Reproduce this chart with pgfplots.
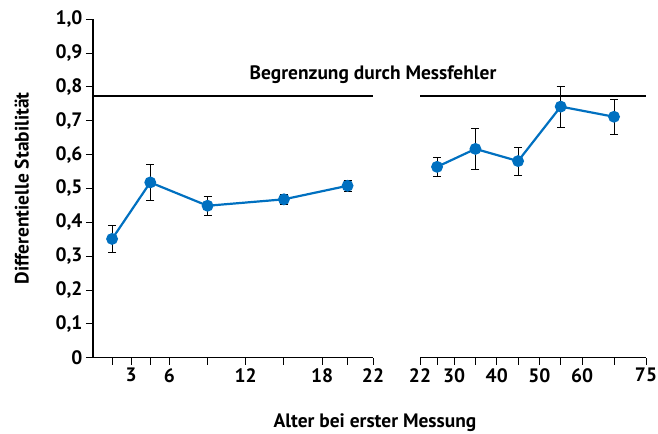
\documentclass[border=0pt]{standalone}
\usepackage{pgfplots}
\pgfplotsset{compat=1.18}
\usepackage{fontspec}
\setmainfont{PT Sans}
\definecolor{ptblue}{RGB}{0,112,192}
\newcommand{\ff}{\fontsize{19.5}{22}\bfseries\selectfont}
\begin{document}
\begin{tikzpicture}
\pgfplotsset{
  base/.style={
    scale only axis,
    height=338.4bp,
    ymin=0, ymax=1,
    clip=false,
    axis line style={line width=1.3bp},
    tick style={line width=1bp, black},
    major tick length=7bp,
    tick align=outside,
    ticklabel style={font=\ff},
    label style={font=\ff},
    /pgf/number format/assume math mode=true,
  },
  data/.style={ptblue, line width=2.2bp, mark=*, mark size=4.8bp,
    mark options={ptblue},
    error bars/.cd, y dir=both, y explicit,
    error bar style={black, line width=0.8bp},
    error mark options={rotate=90, mark size=4bp, black, line width=0.8bp}},
}
\begin{axis}[base,
  width=280bp,
  at={(0,0)}, anchor=south west,
  xmin=0, xmax=22,
  axis x line*=bottom, axis y line*=left,
  xtick={1.5,3,4.5,6,9,12,15,18,20,22},
  xticklabels={,3,,6,,12,,18,,22},
  ytick={0,0.1,0.2,0.3,0.4,0.5,0.6,0.7,0.8,0.9,1},
  yticklabels={0,{0,1},{0,2},{0,3},{0,4},{0,5},{0,6},{0,7},{0,8},{0,9},{1,0}},
  ylabel={Differentielle Stabilität},
  ylabel style={at={(axis description cs:-0.254,0.5)}, anchor=center, rotate=0},
  xlabel={Alter bei erster Messung},
  xlabel style={at={(axis description cs:1.007,-0.192)}, anchor=center},
]
\addplot[black, line width=1.5bp] coordinates {(0,0.774) (22,0.774)};
\addplot[data] coordinates {
  (1.5,0.351) +- (0,0.041)
  (4.5,0.518) +- (0,0.052)
  (9,0.449) +- (0,0.029)
  (15,0.468) +- (0,0.016)
  (20,0.508) +- (0,0.016)
};
\node[font=\ff] at (axis cs:22,0.835) {Begrenzung durch Messfehler};
\end{axis}
\begin{axis}[base,
  width=226bp,
  at={(327bp,0)}, anchor=south west,
  xmin=22, xmax=75,
  axis x line*=bottom, axis y line=none,
  xtick={22,26,30,35,40,45,50,55,60,67.5,75},
  xticklabels={22,,30,,40,,50,,60,,75},
]
\addplot[black, line width=1.5bp] coordinates {(22,0.774) (75,0.774)};
\addplot[data] coordinates {
  (26,0.564) +- (0,0.029)
  (35,0.617) +- (0,0.062)
  (45,0.581) +- (0,0.041)
  (55,0.742) +- (0,0.060)
  (67.5,0.712) +- (0,0.052)
};
\end{axis}
\pgfresetboundingbox
\path (-93bp,-76.3bp) rectangle (565bp,357.7bp);
\end{tikzpicture}
\end{document}
